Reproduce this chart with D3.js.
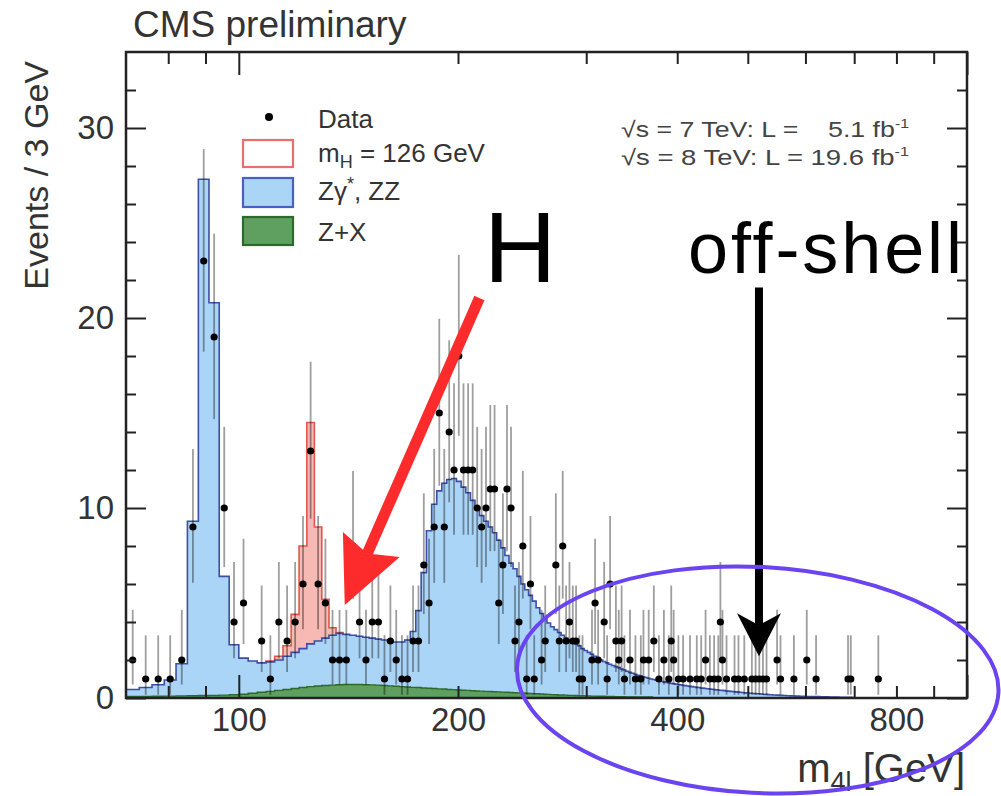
<!DOCTYPE html>
<html>
<head>
<meta charset="utf-8">
<script src="https://cdn.jsdelivr.net/npm/d3@7"></script>
<style>
  body { margin: 0; background: #fff; }
  svg text { font-family: "Liberation Sans", Arial, sans-serif; }
</style>
</head>
<body>
<script>
// ---- binning: Events / 3 GeV starting at 70 GeV ----
var binLo = 70, binWidth = 3;

// stacked background top (Z+X + Zgamma*,ZZ), one value per 3 GeV bin from 70 GeV
var zzTotal = [
  0.45, 0.55, 0.70, 0.95, 1.8, 9.3, 27.3, 20.8, 6.4, 2.8,          // 70
  2.1, 1.95, 1.85, 1.9, 2.0, 2.2, 2.4, 2.6, 2.85, 3.0,              // 100
  3.15, 3.3, 3.4, 3.35, 3.3, 3.25, 3.2, 3.15, 3.1, 3.05,            // 130
  3.0, 2.95, 2.95, 3.05, 3.5, 4.6, 6.6, 8.8, 10.2, 10.9,            // 160
  11.3, 11.5, 11.55, 11.4, 11.1, 10.8, 10.4, 10.0, 9.6, 9.3,        // 190
  9.0, 8.7, 8.3, 7.9, 7.5, 7.1, 6.8, 6.4, 6.0, 5.7,                 // 220
  5.4, 5.1, 4.75, 4.45, 4.2, 3.95, 3.75, 3.6, 3.45, 3.3,            // 250
  3.15, 3.05, 2.95, 2.85, 2.75, 2.6, 2.5, 2.4, 2.3, 2.2,            // 280
  2.1, 2.0, 1.92, 1.85, 1.78, 1.71, 1.65, 1.6, 1.53, 1.47,          // 310
  1.41, 1.35, 1.3, 1.25, 1.2, 1.16, 1.12, 1.08, 1.04, 1.0,          // 340
  0.97, 0.94, 0.91, 0.88, 0.85, 0.82, 0.8, 0.77, 0.75, 0.73,        // 370
  0.71, 0.69, 0.67, 0.65, 0.63, 0.61, 0.6, 0.58, 0.56, 0.55,        // 400
  0.53, 0.52, 0.5, 0.49, 0.47, 0.46, 0.45, 0.43, 0.42, 0.41,        // 430
  0.4, 0.39, 0.37, 0.36, 0.35, 0.34, 0.33, 0.32, 0.31, 0.3,         // 460
  0.29, 0.28, 0.27, 0.26, 0.25, 0.25, 0.24, 0.23, 0.22, 0.22,       // 490
  0.21, 0.2, 0.19, 0.19, 0.18, 0.17, 0.17, 0.16, 0.16, 0.15,        // 520
  0.15, 0.14, 0.14, 0.13, 0.13, 0.12, 0.12, 0.11, 0.11, 0.11,       // 550
  0.1, 0.1, 0.1, 0.09, 0.09, 0.09, 0.09, 0.08, 0.08, 0.08,          // 580
  0.08, 0.07, 0.07, 0.07, 0.07, 0.07, 0.06, 0.06, 0.06, 0.06,       // 610
  0.06, 0.06, 0.05, 0.05, 0.05, 0.05, 0.05, 0.05, 0.05, 0.04,       // 640
  0.04, 0.04, 0.04, 0.04, 0.04, 0.04, 0.04, 0.04, 0.03, 0.03        // 670
];

// Z+X, one value per 3 GeV bin from 70 GeV
var zxValues = [
  0.08, 0.08, 0.09, 0.1, 0.11, 0.12, 0.13, 0.14, 0.15, 0.17,        // 70
  0.2, 0.25, 0.3, 0.35, 0.4, 0.45, 0.5, 0.55, 0.6, 0.63,            // 100
  0.66, 0.68, 0.7, 0.71, 0.71, 0.71, 0.7, 0.69, 0.68, 0.66,         // 130
  0.64, 0.62, 0.6, 0.58, 0.56, 0.55, 0.53, 0.51, 0.5, 0.48,         // 160
  0.47, 0.45, 0.44, 0.42, 0.41, 0.4, 0.38, 0.37, 0.36, 0.35,        // 190
  0.34, 0.33, 0.32, 0.31, 0.3, 0.29, 0.28, 0.27, 0.26, 0.25,        // 220
  0.24, 0.23, 0.22, 0.21, 0.2, 0.19, 0.18, 0.17, 0.16, 0.16,        // 250
  0.15, 0.14, 0.14, 0.13, 0.12, 0.12, 0.11, 0.11, 0.1, 0.1,         // 280
  0.09, 0.09, 0.09, 0.08, 0.08, 0.08, 0.07, 0.07, 0.07, 0.07,       // 310
  0.06, 0.06, 0.06, 0.06, 0.05, 0.05, 0.05, 0.05, 0.05, 0.05        // 340
];

// signal mH = 126 GeV stacked on top, bins from 109 GeV
var higgsFirstBin = 13;
var higgsTotal = [1.95, 2.2, 2.75, 4.4, 8.0, 14.5, 9.0, 5.2, 3.7, 3.45];

// observed data, non-empty bins (bin centre in GeV, events)
var dataMass = [
  71.5, 74.5, 77.5, 80.5, 83.5, 86.5, 89.5, 92.5, 95.5, 98.5,
  101.5, 107.5, 110.5, 113.5, 116.5, 119.5, 122.5, 125.5, 128.5, 131.5,
  134.5, 137.5, 140.5, 143.5, 146.5, 149.5, 152.5, 155.5, 158.5, 161.5,
  164.5, 167.5, 170.5, 173.5, 176.5, 179.5, 182.5, 185.5, 188.5, 191.5,
  194.5, 197.5, 200.5, 203.5, 206.5, 209.5, 212.5, 215.5, 218.5, 221.5,
  224.5, 227.5, 230.5, 233.5, 236.5, 239.5, 242.5, 245.5, 248.5, 251.5,
  254.5, 260.5, 263.5, 272.5, 275.5, 278.5, 281.5, 284.5, 287.5, 290.5,
  293.5, 296.5, 305.5, 308.5, 311.5, 317.5, 320.5, 323.5, 329.5, 332.5,
  335.5, 338.5, 344.5, 350.5, 356.5, 359.5, 365.5, 371.5, 377.5, 383.5,
  389.5, 392.5, 395.5, 401.5, 407.5, 416.5, 425.5, 431.5, 437.5, 443.5,
  449.5, 455.5, 458.5, 461.5, 467.5, 479.5, 485.5, 494.5, 506.5, 512.5,
  518.5, 524.5, 530.5, 548.5, 554.5, 578.5, 602.5, 620.5, 686.5, 692.5,
  755.5
];
var dataCount = [
  2, 1, 1, 1, 2, 9, 23, 19, 10, 4,
  5, 3, 1, 4, 3, 4, 6, 13, 6, 5,
  2, 2, 2, 8, 4, 2, 4, 4, 1, 3,
  2, 1, 1, 3, 3, 7, 5, 9, 15, 9,
  14, 12, 18, 12, 12, 12, 10, 9, 10, 11,
  11, 5, 7, 11, 10, 3, 4, 8, 1, 6,
  1, 2, 3, 7, 3, 8, 3, 4, 3, 3,
  1, 1, 2, 5, 2, 4, 1, 6, 3, 2,
  3, 1, 2, 1, 1, 2, 2, 3, 1, 2,
  1, 3, 2, 1, 1, 1, 1, 1, 2, 1,
  1, 1, 4, 2, 1, 1, 1, 1, 1, 1,
  1, 1, 1, 2, 1, 1, 2, 1, 1, 1,
  1
];

// 68% Poisson intervals, indexed by the observed count
var poissonLo = [0, 0.83, 1.29, 1.63, 1.91, 2.16, 2.38, 2.58, 2.77, 2.94, 3.11, 3.27,
                 3.41, 3.56, 3.70, 3.83, 3.96, 4.08, 4.20, 4.32, 4.44, 4.55, 4.66, 4.77];
var poissonHi = [1.84, 2.30, 2.64, 2.92, 3.16, 3.38, 3.58, 3.77, 3.95, 4.11, 4.27, 4.42,
                 4.56, 4.70, 4.83, 4.96, 5.08, 5.20, 5.32, 5.44, 5.55, 5.67, 5.78, 5.89];

// axis ticks
var xMinorTicks = [80, 90, 200, 300, 400, 500, 600, 700, 800, 900];
var xMajorTicks = [100, 1000];
var xTickLabels = [100, 200, 400, 800];
var yMajorTicks = [0, 10, 20, 30];
var yMinorTicks = [2, 4, 6, 8, 12, 14, 16, 18, 22, 24, 26, 28, 32];

// ---- layout ----
var width = 1001, height = 796;
var plot = {left: 126, right: 967, top: 52, bottom: 698};
var axisColor = "#222";
var textColor = "#333";

var x = d3.scaleLog().domain([70, 1000]).range([plot.left, plot.right]);
var y = d3.scaleLinear().domain([0, 34]).range([plot.bottom, plot.top]);

var svg = d3.select("body").append("svg")
    .attr("width", width)
    .attr("height", height);

svg.append("rect").attr("width", width).attr("height", height).attr("fill", "#fff");

svg.append("defs").append("clipPath")
    .attr("id", "plotclip")
  .append("rect")
    .attr("x", plot.left)
    .attr("y", plot.top)
    .attr("width", plot.right - plot.left)
    .attr("height", plot.bottom - plot.top);

var chart = svg.append("g").attr("clip-path", "url(#plotclip)");

// turn per-bin values into step points [edge, value]
function binPoints(values, firstBin) {
  var pts = values.map(function(v, i) {
    return [binLo + binWidth * (firstBin + i), v];
  });
  pts.push([binLo + binWidth * (firstBin + values.length), values[values.length - 1]]);
  return pts;
}

var area = d3.area()
    .curve(d3.curveStepAfter)
    .x(function(d) { return x(d[0]); })
    .y0(y(0))
    .y1(function(d) { return y(d[1]); });

// Higgs signal (behind the background)
chart.append("path")
    .datum(binPoints(higgsTotal, higgsFirstBin))
    .attr("d", area)
    .attr("fill", "#f6b9b3")
    .attr("stroke", "#e4554d")
    .attr("stroke-width", 1.6);

// Zgamma*, ZZ
chart.append("path")
    .datum(binPoints(zzTotal, 0))
    .attr("d", area)
    .attr("fill", "#abd5f7")
    .attr("stroke", "#3d4ea6")
    .attr("stroke-width", 1.6);

// Z+X
chart.append("path")
    .datum(binPoints(zxValues, 0))
    .attr("d", area)
    .attr("fill", "#5f9f5f")
    .attr("stroke", "#2c6a2c")
    .attr("stroke-width", 1.4);

// data
var points = dataMass.map(function(m, i) { return {m: m, n: dataCount[i]}; });

chart.selectAll("line.err")
    .data(points)
  .enter().append("line")
    .attr("class", "err")
    .attr("x1", function(d) { return x(d.m); })
    .attr("x2", function(d) { return x(d.m); })
    .attr("y1", function(d) { return y(d.n - poissonLo[d.n]); })
    .attr("y2", function(d) { return y(d.n + poissonHi[d.n]); })
    .attr("stroke", "#000")
    .attr("stroke-opacity", 0.38)
    .attr("stroke-width", 1.8);

chart.selectAll("circle.pt")
    .data(points)
  .enter().append("circle")
    .attr("class", "pt")
    .attr("cx", function(d) { return x(d.m); })
    .attr("cy", function(d) { return y(d.n); })
    .attr("r", 3.6)
    .attr("fill", "#000");

// ---- axes ----
function styleTicks(g) {
  g.select(".domain").remove();
  g.selectAll("line").attr("stroke", axisColor).attr("stroke-width", 2);
}
function styleLabels(g) {
  g.select(".domain").remove();
  g.selectAll("text")
      .attr("fill", textColor)
      .attr("font-size", 33)
      .attr("font-family", "Liberation Sans, Arial, sans-serif");
}

// bottom / top
svg.append("g").attr("transform", "translate(0," + plot.bottom + ")")
    .call(d3.axisBottom(x).tickValues(xMinorTicks).tickSize(-12).tickFormat(""))
    .call(styleTicks);
svg.append("g").attr("transform", "translate(0," + plot.bottom + ")")
    .call(d3.axisBottom(x).tickValues(xMajorTicks).tickSize(-23).tickFormat(""))
    .call(styleTicks);
svg.append("g").attr("transform", "translate(0," + plot.top + ")")
    .call(d3.axisTop(x).tickValues(xMinorTicks).tickSize(-12).tickFormat(""))
    .call(styleTicks);
svg.append("g").attr("transform", "translate(0," + plot.top + ")")
    .call(d3.axisTop(x).tickValues(xMajorTicks).tickSize(-23).tickFormat(""))
    .call(styleTicks);
svg.append("g").attr("transform", "translate(0," + plot.bottom + ")")
    .call(d3.axisBottom(x).tickValues(xTickLabels).tickSize(0).tickPadding(10)
      .tickFormat(d3.format("d")))
    .call(styleLabels);

// left / right
svg.append("g").attr("transform", "translate(" + plot.left + ",0)")
    .call(d3.axisLeft(y).tickValues(yMinorTicks).tickSize(-10).tickFormat(""))
    .call(styleTicks);
svg.append("g").attr("transform", "translate(" + plot.left + ",0)")
    .call(d3.axisLeft(y).tickValues(yMajorTicks).tickSize(-20).tickFormat(""))
    .call(styleTicks);
svg.append("g").attr("transform", "translate(" + plot.right + ",0)")
    .call(d3.axisRight(y).tickValues(yMinorTicks).tickSize(-10).tickFormat(""))
    .call(styleTicks);
svg.append("g").attr("transform", "translate(" + plot.right + ",0)")
    .call(d3.axisRight(y).tickValues(yMajorTicks).tickSize(-20).tickFormat(""))
    .call(styleTicks);
svg.append("g").attr("transform", "translate(" + plot.left + ",0)")
    .call(d3.axisLeft(y).tickValues(yMajorTicks).tickSize(0).tickPadding(12)
      .tickFormat(d3.format("d")))
    .call(styleLabels);

// frame
svg.append("rect")
    .attr("x", plot.left)
    .attr("y", plot.top)
    .attr("width", plot.right - plot.left)
    .attr("height", plot.bottom - plot.top)
    .attr("fill", "none")
    .attr("stroke", axisColor)
    .attr("stroke-width", 2.5);

// axis titles
svg.append("text")
    .attr("transform", "translate(48,61) rotate(-90)")
    .attr("text-anchor", "end")
    .attr("font-size", 34)
    .attr("fill", textColor)
    .text("Events / 3 GeV");

var xt = svg.append("text")
    .attr("x", 965)
    .attr("y", 782)
    .attr("text-anchor", "end")
    .attr("font-size", 40)
    .attr("fill", textColor);
xt.append("tspan").text("m");
xt.append("tspan").attr("font-size", 27).attr("dy", 9).text("4l");
xt.append("tspan").attr("dy", -9).text(" [GeV]");

svg.append("text")
    .attr("x", 133)
    .attr("y", 37)
    .attr("font-size", 37)
    .attr("fill", textColor)
    .text("CMS preliminary");

// ---- legend ----
var legend = svg.append("g").attr("font-size", 26).attr("fill", textColor);
legend.append("circle").attr("cx", 269).attr("cy", 117).attr("r", 4).attr("fill", "#000");
legend.append("text").attr("x", 318).attr("y", 128).text("Data");

legend.append("rect").attr("x", 243).attr("y", 140).attr("width", 50).attr("height", 27)
    .attr("fill", "#fff").attr("stroke", "#e8706a").attr("stroke-width", 2.2);
var lh = legend.append("text").attr("x", 318).attr("y", 162);
lh.append("tspan").text("m");
lh.append("tspan").attr("font-size", 18).attr("dy", 6).text("H");
lh.append("tspan").attr("dy", -6).text(" = 126 GeV");

legend.append("rect").attr("x", 243).attr("y", 178).attr("width", 50).attr("height", 29)
    .attr("fill", "#abd5f7").attr("stroke", "#4a5fbf").attr("stroke-width", 2.2);
var lz = legend.append("text").attr("x", 318).attr("y", 200);
lz.append("tspan").text("Z\u03b3");
lz.append("tspan").attr("font-size", 18).attr("dy", -10).text("*");
lz.append("tspan").attr("dy", 10).text(", ZZ");

legend.append("rect").attr("x", 243).attr("y", 217).attr("width", 50).attr("height", 28)
    .attr("fill", "#5f9f5f").attr("stroke", "#2c6a2c").attr("stroke-width", 2.2);
legend.append("text").attr("x", 318).attr("y", 241).text("Z+X");

// luminosity
var lumi = svg.append("g").attr("font-size", 22).attr("fill", "#444");
var l1 = lumi.append("text").attr("x", 621).attr("y", 137)
    .attr("textLength", 288).attr("lengthAdjust", "spacingAndGlyphs");
l1.append("tspan").text("\u221as = 7 TeV: L = \u00a0\u00a0\u00a05.1 fb");
l1.append("tspan").attr("font-size", 13).attr("dy", -9).text("-1");
var l2 = lumi.append("text").attr("x", 621).attr("y", 165)
    .attr("textLength", 288).attr("lengthAdjust", "spacingAndGlyphs");
l2.append("tspan").text("\u221as = 8 TeV: L = 19.6 fb");
l2.append("tspan").attr("font-size", 13).attr("dy", -9).text("-1");

// ---- annotations ----
var ann = svg.append("g");

function arrow(g, from, to, color, lineW, headLen, headHalf, notch) {
  var dx = to[0] - from[0], dy = to[1] - from[1];
  var len = Math.sqrt(dx * dx + dy * dy);
  var ux = dx / len, uy = dy / len, px = -uy, py = ux;
  var bx = to[0] - headLen * ux, by = to[1] - headLen * uy;
  g.append("line")
      .attr("x1", from[0]).attr("y1", from[1])
      .attr("x2", bx + notch * ux).attr("y2", by + notch * uy)
      .attr("stroke", color).attr("stroke-width", lineW);
  g.append("path")
      .attr("d", "M" + to[0] + "," + to[1] +
                 "L" + (bx + headHalf * px) + "," + (by + headHalf * py) +
                 "L" + (bx + notch * ux) + "," + (by + notch * uy) +
                 "L" + (bx - headHalf * px) + "," + (by - headHalf * py) + "Z")
      .attr("fill", color);
}

// red arrow towards the Higgs peak region
arrow(ann, [x(214), y(21.05)], [x(139.8), y(4.9)], "#fd2b2b", 11, 66, 31, 10);

// black arrow into the off-shell tail
arrow(ann, [x(518), y(21.6)], [x(518), y(2.2)], "#000", 8, 43, 22, 12);

// ellipse around the tail
ann.append("ellipse")
    .attr("cx", x(516)).attr("cy", y(0.95))
    .attr("rx", 241).attr("ry", 113)
    .attr("transform", "rotate(3," + x(516) + "," + y(0.95) + ")")
    .attr("fill", "none")
    .attr("stroke", "#6b44f2")
    .attr("stroke-width", 4);

ann.append("text")
    .attr("x", 484).attr("y", 282)
    .attr("font-family", "Lato, 'Open Sans', sans-serif")
    .attr("font-size", 100)
    .attr("fill", "#000")
    .text("H");

ann.append("text")
    .attr("x", 688).attr("y", 273)
    .attr("font-family", "Lato, 'Open Sans', sans-serif")
    .attr("font-size", 72)
    .attr("textLength", 274)
    .attr("fill", "#000")
    .text("off-shell");
</script>
</body>
</html>
